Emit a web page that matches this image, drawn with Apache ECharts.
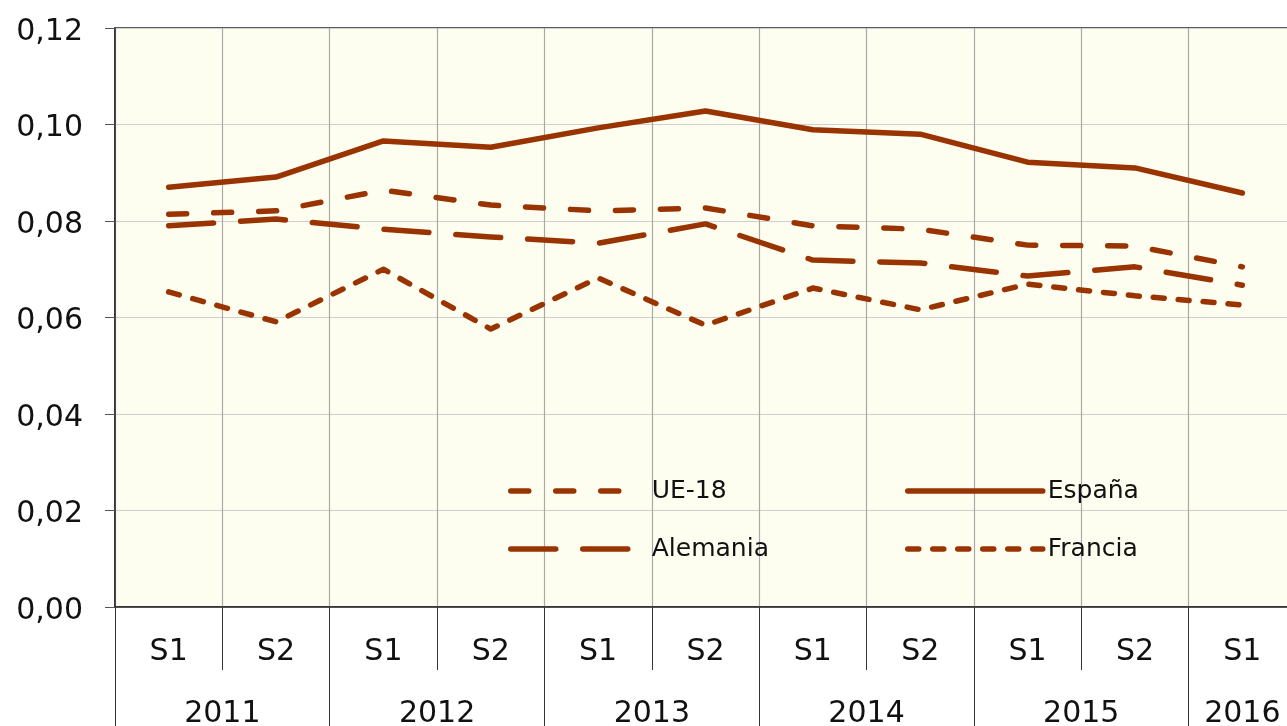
<!DOCTYPE html>
<html>
<head>
<meta charset="utf-8">
<script src="https://cdn.jsdelivr.net/npm/echarts@6/dist/echarts.min.js"></script>
<style>
html,body{margin:0;padding:0;background:#fff;overflow:hidden;width:1287px;height:726px;}
#c{width:1300px;height:726px;}
</style>
</head>
<body>
<div id="c"></div>
<script>
var categories = ['S1','S2','S1','S2','S1','S2','S1','S2','S1','S2','S1'];
var years = ['2011','2012','2013','2014','2015','2016'];
var yearSpans = [2,2,2,2,2,1];
var espana   = [0.0870,0.0891,0.0966,0.0953,0.0993,0.1028,0.0989,0.0980,0.0922,0.0910,0.0858];
var ue18     = [0.0814,0.0821,0.0864,0.0833,0.0821,0.0827,0.0790,0.0783,0.0750,0.0748,0.0705];
var alemania = [0.0790,0.0804,0.0783,0.0767,0.0754,0.0794,0.0719,0.0713,0.0686,0.0705,0.0667];
var francia  = [0.0653,0.0591,0.0700,0.0576,0.0682,0.0584,0.0661,0.0616,0.0669,0.0645,0.0626];
var yMin = 0, yMax = 0.12, yStep = 0.02;

// year boundaries and label centres (in category units)
var yearBounds = [0], yearCenters = [], acc = 0;
yearSpans.forEach(function(s){ yearCenters.push(acc + s/2); acc += s; yearBounds.push(acc); });

var FONT = 'DejaVu Sans';
var COL = '#993300';
var LW = 5.5;
var chart = echarts.init(document.getElementById('c'), null, {renderer:'canvas'});

function lineSeries(name, data, dash) {
  return {
    name: name, type: 'line', data: data, symbol: 'none', xAxisIndex: 0,
    lineStyle: {color: COL, width: LW, type: dash || 'solid', cap: 'round', join: 'round'},
    itemStyle: {color: COL},
    animation: false
  };
}

var legendCommon = {
  orient: 'vertical', top: 471, itemHeight: 14, itemGap: 28,
  lineStyle: {width: LW, cap: 'round'},
  itemStyle: {opacity: 0},
  inactiveColor: COL
};

chart.setOption({
  animation: false,
  grid: {left: 115, top: 28, width: 1181, height: 579, show: true, containLabel: false,
         outerBoundsMode: 'none',
         backgroundColor: '#FEFEF0', borderColor: '#2a2a2a', borderWidth: 1.5},
  legend: [
    Object.assign({}, legendCommon, {data: ['UE-18','Alemania'], left: 503, itemWidth: 122,
     textStyle: {fontFamily: FONT, fontSize: 25, color: '#111', padding: [0,0,0,14], lineHeight: 30}}),
    Object.assign({}, legendCommon, {data: ['España','Francia'], left: 900, itemWidth: 135,
     textStyle: {fontFamily: FONT, fontSize: 25, color: '#111', padding: [0,0,0,0], lineHeight: 30}})
  ],
  xAxis: [
    {type: 'category', data: categories, boundaryGap: true, position: 'bottom',
     axisLine: {show: true, lineStyle: {color: '#2a2a2a', width: 1.5}},
     axisTick: {show: true, interval: 0, length: 63, lineStyle: {color: '#333', width: 1}},
     axisLabel: {interval: 0, margin: 30, fontFamily: FONT, fontSize: 30, color: '#111'},
     splitLine: {show: true, interval: 0, lineStyle: {color: '#a8a8a8', width: 1.2}}},
    {type: 'value', min: 0, max: categories.length, position: 'bottom',
     axisLine: {show: false},
     axisTick: {show: true, customValues: yearBounds, length: 125, lineStyle: {color: '#333', width: 1}},
     axisLabel: {show: true, customValues: yearCenters, margin: 92, fontFamily: FONT, fontSize: 30, color: '#111',
       formatter: function(v){ var i = yearCenters.indexOf(v); return i >= 0 ? years[i] : ''; }},
     splitLine: {show: false}}
  ],
  yAxis: {type: 'value', min: yMin, max: yMax, interval: yStep,
    axisLine: {show: true, lineStyle: {color: '#2a2a2a', width: 1.5}},
    axisTick: {show: true, length: 10, lineStyle: {color: '#555'}},
    axisLabel: {margin: 32, fontFamily: FONT, fontSize: 30, color: '#111', verticalAlign: 'top', lineHeight: 8,
      formatter: function(v){ return v.toFixed(2).replace('.', ','); }},
    splitLine: {show: true, lineStyle: {color: '#cfcfcf', width: 1.2}}},
  series: [
    lineSeries('UE-18', ue18, [18, 27]),
    lineSeries('España', espana, 'solid'),
    lineSeries('Alemania', alemania, [45, 27]),
    lineSeries('Francia', francia, [11, 14])
  ]
});
</script>
</body>
</html>
